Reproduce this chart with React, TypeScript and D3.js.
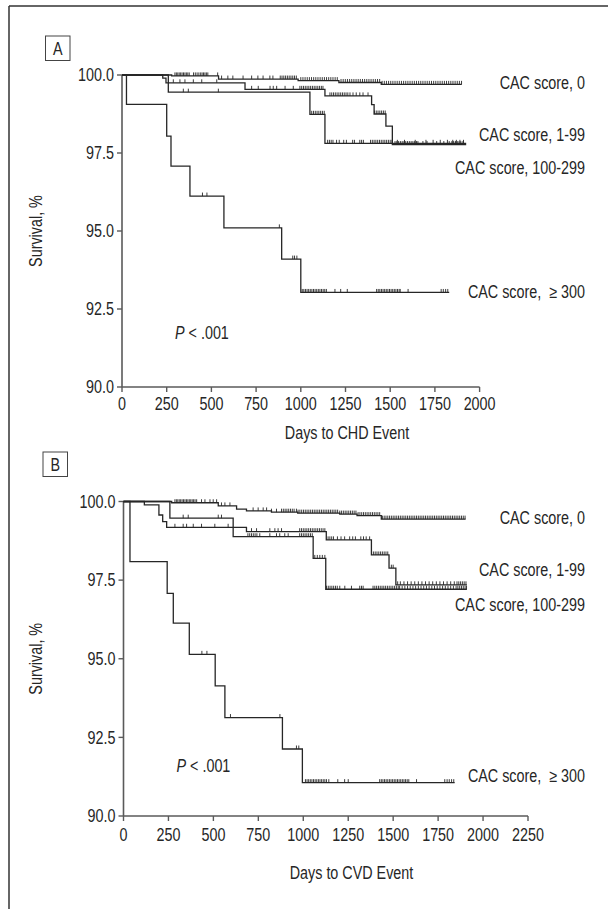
import React from "react";
import * as d3 from "d3";

// ---------- DATA ----------
const X_TICKS_A = [0, 250, 500, 750, 1000, 1250, 1500, 1750, 2000];
const X_TICKS_B = [0, 250, 500, 750, 1000, 1250, 1500, 1750, 2000, 2250];
const Y_TICKS = [90, 92.5, 95, 97.5, 100];

const GROUPS = ["CAC score, 0", "CAC score, 1-99", "CAC score, 100-299", "CAC score,\u00a0 \u2265 300"];

// Panel A (CHD) step points [day, survival %]
const A_CAC0: [number, number][] = [[0, 100], [278, 99.97], [540, 99.87], [985, 99.82], [1213, 99.76], [1450, 99.7]];
const A_CAC0_END = 1900;
const A_CAC0_CENS = [296, 304, 312, 320, 328, 336, 344, 352, 360, 368, 376, 400, 410, 420, 430, 440, 448, 456, 464, 472, 480, 535, 557, 592, 620, 677, 725, 760, 789, 827, 844, 885, 895, 905, 915, 925, 935, 945, 955, 965, 975, 1000, 1012, 1024, 1036, 1048, 1060, 1072, 1084, 1096, 1108, 1120, 1132, 1144, 1156, 1168, 1180, 1192, 1204, 1225, 1237, 1249, 1261, 1273, 1285, 1297, 1309, 1321, 1333, 1345, 1357, 1369, 1381, 1393, 1405, 1417, 1429, 1441, 1455, 1467, 1479, 1491, 1503, 1515, 1527, 1539, 1551, 1563, 1575, 1587, 1599, 1611, 1623, 1635, 1647, 1659, 1671, 1683, 1695, 1707, 1719, 1731, 1743, 1755, 1767, 1779, 1791, 1803, 1815, 1827, 1839, 1851, 1863, 1875, 1887, 1899];

const A_CAC1: [number, number][] = [[0, 100], [228, 99.9], [246, 99.75], [688, 99.54], [1135, 99.33], [1396, 99.05], [1410, 98.75], [1476, 98.36], [1512, 97.77]];
const A_CAC1_END = 1925;
const A_CAC1_CENS = [287, 324, 352, 399, 446, 530, 725, 762, 828, 846, 865, 912, 958, 995, 1005, 1015, 1025, 1035, 1045, 1055, 1065, 1075, 1085, 1095, 1105, 1115, 1124, 1163, 1173, 1183, 1193, 1203, 1213, 1223, 1233, 1243, 1253, 1263, 1275, 1292, 1310, 1330, 1348, 1376, 1412, 1422, 1432, 1442, 1452, 1462, 1472, 1527, 1537, 1547, 1557, 1567, 1577, 1587, 1597, 1607, 1617, 1627, 1637, 1647, 1655, 1683, 1706, 1760, 1800, 1830, 1845, 1855, 1865, 1875, 1885, 1895, 1907];

const A_CAC2: [number, number][] = [[0, 100], [259, 99.45], [1051, 98.74], [1135, 97.81]];
const A_CAC2_END = 1925;
const A_CAC2_CENS = [343, 371, 539, 1061, 1071, 1081, 1091, 1101, 1111, 1121, 1131, 1150, 1160, 1170, 1180, 1200, 1215, 1240, 1255, 1290, 1300, 1330, 1340, 1350, 1390, 1400, 1410, 1420, 1430, 1440, 1450, 1460, 1470, 1480, 1490, 1500, 1510, 1540, 1580, 1640, 1700, 1740, 1780, 1820, 1850, 1870, 1890, 1910];

const A_CAC3: [number, number][] = [[0, 100], [25, 99.06], [250, 98.04], [274, 97.08], [380, 96.12], [570, 95.1], [893, 94.1], [1000, 93.03]];
const A_CAC3_END = 1830;
const A_CAC3_CENS = [450, 475, 880, 955, 965, 978, 1008, 1017, 1026, 1035, 1044, 1053, 1062, 1071, 1080, 1089, 1098, 1107, 1116, 1125, 1134, 1143, 1191, 1223, 1260, 1424, 1433, 1442, 1451, 1460, 1469, 1478, 1487, 1496, 1505, 1514, 1523, 1532, 1541, 1550, 1556, 1600, 1785, 1797, 1810, 1822];

// Panel B (CVD)
const B_CAC0: [number, number][] = [[0, 100], [268, 99.96], [527, 99.86], [629, 99.76], [684, 99.7], [823, 99.66], [969, 99.63], [1203, 99.6], [1299, 99.55], [1434, 99.44]];
const B_CAC0_END = 1903;
const B_CAC0_CENS = [286, 294, 302, 310, 318, 326, 334, 342, 350, 358, 366, 374, 382, 390, 398, 407, 434, 453, 481, 499, 518, 545, 564, 592, 721, 749, 777, 796, 823, 851, 879, 889, 899, 909, 919, 929, 939, 949, 962, 971, 981, 991, 1001, 1011, 1021, 1031, 1041, 1051, 1061, 1071, 1081, 1091, 1101, 1111, 1121, 1131, 1141, 1151, 1161, 1171, 1181, 1191, 1203, 1213, 1223, 1233, 1243, 1253, 1263, 1273, 1283, 1293, 1305, 1315, 1325, 1335, 1345, 1355, 1365, 1375, 1385, 1395, 1405, 1415, 1425, 1440, 1450, 1460, 1470, 1480, 1490, 1500, 1510, 1520, 1530, 1540, 1550, 1560, 1570, 1580, 1590, 1600, 1610, 1620, 1630, 1640, 1650, 1660, 1670, 1680, 1690, 1700, 1710, 1720, 1730, 1740, 1750, 1760, 1770, 1780, 1790, 1800, 1810, 1820, 1830, 1840, 1850, 1860, 1870, 1880, 1890, 1900];

const B_CAC1: [number, number][] = [[0, 100], [116, 99.89], [197, 99.57], [218, 99.36], [240, 99.18], [684, 99.04], [1128, 98.78], [1379, 98.3], [1477, 97.88], [1515, 97.35]];
const B_CAC1_END = 1910;
const B_CAC1_CENS = [286, 332, 351, 388, 434, 508, 582, 712, 740, 814, 842, 860, 879, 980, 990, 1000, 1010, 1020, 1030, 1040, 1050, 1060, 1070, 1080, 1090, 1100, 1110, 1120, 1138, 1148, 1158, 1168, 1190, 1210, 1230, 1258, 1275, 1290, 1320, 1335, 1350, 1369, 1390, 1400, 1410, 1420, 1430, 1440, 1450, 1460, 1470, 1490, 1500, 1525, 1540, 1560, 1580, 1600, 1620, 1640, 1660, 1680, 1700, 1720, 1740, 1760, 1780, 1800, 1820, 1840, 1855, 1865, 1875, 1885, 1895, 1905];

const B_CAC2: [number, number][] = [[0, 100], [258, 99.47], [610, 98.88], [1055, 98.19], [1125, 97.21]];
const B_CAC2_END = 1910;
const B_CAC2_CENS = [332, 360, 527, 545, 692, 702, 712, 722, 732, 742, 758, 814, 851, 869, 897, 916, 980, 990, 1000, 1010, 1020, 1030, 1040, 1050, 1064, 1078, 1092, 1106, 1120, 1129, 1139, 1149, 1159, 1169, 1179, 1189, 1203, 1231, 1268, 1314, 1324, 1333, 1388, 1398, 1408, 1418, 1428, 1438, 1448, 1458, 1468, 1478, 1488, 1498, 1508, 1518, 1528, 1536, 1550, 1565, 1580, 1595, 1610, 1625, 1640, 1655, 1670, 1685, 1700, 1715, 1730, 1745, 1760, 1775, 1790, 1805, 1820, 1835, 1850, 1860, 1870, 1880, 1890, 1900, 1908];

const B_CAC3: [number, number][] = [[0, 100], [36, 98.09], [243, 97.08], [277, 96.13], [366, 95.14], [510, 94.14], [564, 93.13], [884, 92.13], [995, 91.06]];
const B_CAC3_END = 1842;
const B_CAC3_CENS = [436, 464, 595, 870, 962, 975, 1012, 1021, 1030, 1039, 1048, 1057, 1066, 1075, 1084, 1093, 1102, 1111, 1120, 1129, 1142, 1192, 1230, 1250, 1425, 1434, 1443, 1452, 1461, 1470, 1479, 1488, 1497, 1506, 1515, 1524, 1533, 1542, 1551, 1560, 1569, 1578, 1587, 1630, 1787, 1800, 1812, 1825, 1837];

// ---------- STYLE ----------
const FONT = "'Liberation Sans', Arial, sans-serif";
const FS = 17.5;
const SX = 0.82; // condensed look
const INK = "#262626";
const AXIS = "#5a5a5a";

type Curve = { steps: [number, number][]; end: number; cens: number[] };

function survAt(steps: [number, number][], d: number) {
  let s = steps[0][1];
  for (const [t, v] of steps) if (t <= d) s = v;
  return s;
}

function T(props: { x: number; y: number; anchor?: string; rotate?: number; children: React.ReactNode }) {
  const rot = props.rotate ? ` rotate(${props.rotate})` : "";
  return (
    <text
      transform={`translate(${props.x},${props.y})${rot} scale(${SX},1)`}
      dy="0.36em"
      textAnchor={props.anchor || "start"}
      fontFamily={FONT}
      fontSize={FS}
      fill={INK}
    >
      {props.children}
    </text>
  );
}

function Panel(props: {
  letter: string;
  box: [number, number];
  xRange: [number, number];
  yRange: [number, number];
  xMax: number;
  xTicks: number[];
  curves: Curve[];
  labelY: number[];
  pY: number;
  pX: number;
  xTitle: string;
  xTitlePos: [number, number];
  tickLabelOff: number;
}) {
  const x = d3.scaleLinear().domain([0, props.xMax]).range(props.xRange);
  const y = d3.scaleLinear().domain([90, 100]).range(props.yRange);
  const line = d3
    .line<[number, number]>()
    .x((d) => x(d[0]))
    .y((d) => y(d[1]))
    .curve(d3.curveStepAfter);
  const x0 = props.xRange[0];
  const yBot = y(90);
  return (
    <g>
      <rect x={props.box[0]} y={props.box[1]} width={24.5} height={24.5} fill="none" stroke="#444" strokeWidth={1} />
      <T x={props.box[0] + 12.25} y={props.box[1] + 12.5} anchor="middle">
        {props.letter}
      </T>
      {/* axes */}
      <line x1={x0} x2={x0} y1={y(100)} y2={yBot} stroke={AXIS} strokeWidth={1.6} />
      <line x1={x0} x2={x(props.xMax)} y1={yBot} y2={yBot} stroke={AXIS} strokeWidth={1.6} />
      {Y_TICKS.map((t) => (
        <g key={"y" + t}>
          <line x1={x0 - 5} x2={x0} y1={y(t)} y2={y(t)} stroke={AXIS} strokeWidth={1.4} />
          <T x={x0 - 8} y={y(t)} anchor="end">
            {t.toFixed(1)}
          </T>
        </g>
      ))}
      {props.xTicks.map((t) => (
        <g key={"x" + t}>
          <line x1={x(t)} x2={x(t)} y1={yBot} y2={yBot + 5} stroke={AXIS} strokeWidth={1.4} />
          <T x={x(t)} y={yBot + props.tickLabelOff} anchor="middle">
            {t}
          </T>
        </g>
      ))}
      <T x={36} y={(y(100) + yBot) / 2} rotate={-90} anchor="middle">
        Survival, %
      </T>
      <T x={props.xTitlePos[0]} y={props.xTitlePos[1]} anchor="middle">
        {props.xTitle}
      </T>
      <T x={props.pX} y={props.pY}>
        <tspan fontStyle="italic">P</tspan>
        <tspan> &lt; .001</tspan>
      </T>
      {/* curves */}
      {props.curves.map((c, i) => {
        const last = c.steps[c.steps.length - 1][1];
        const pts: [number, number][] = [...c.steps, [c.end, last]];
        return (
          <g key={"c" + i}>
            <path d={line(pts) || ""} fill="none" stroke={INK} strokeWidth={1.3} />
            {c.cens.map((d, j) => {
              const s = survAt(c.steps, d);
              return <line key={j} x1={x(d)} x2={x(d)} y1={y(s) - 3.5} y2={y(s)} stroke={INK} strokeWidth={0.9} />;
            })}
          </g>
        );
      })}
      {GROUPS.map((g, i) => (
        <T key={g} x={585} y={props.labelY[i]} anchor="end">
          {g}
        </T>
      ))}
    </g>
  );
}

export default function App() {
  return (
    <svg width={608} height={909} style={{ position: "absolute", left: 0, top: 0, background: "#fff" }}>
      <rect x={0} y={0} width={608} height={909} fill="#fff" />
      <line x1={9} x2={608} y1={6} y2={6} stroke="#333" strokeWidth={1.5} />
      <line x1={9} x2={9} y1={6} y2={909} stroke="#333" strokeWidth={1.5} />
      <Panel
        letter="A"
        box={[45.5, 36]}
        xRange={[122, 479.6]}
        yRange={[387, 75]}
        xMax={2000}
        xTicks={X_TICKS_A}
        curves={[
          { steps: A_CAC0, end: A_CAC0_END, cens: A_CAC0_CENS },
          { steps: A_CAC1, end: A_CAC1_END, cens: A_CAC1_CENS },
          { steps: A_CAC2, end: A_CAC2_END, cens: A_CAC2_CENS },
          { steps: A_CAC3, end: A_CAC3_END, cens: A_CAC3_CENS },
        ]}
        labelY={[83, 135, 168, 292]}
        pX={175}
        pY={333}
        xTitle="Days to CHD Event"
        xTitlePos={[347, 433]}
        tickLabelOff={17}
      />
      <Panel
        letter="B"
        box={[43, 452]}
        xRange={[123.5, 528]}
        yRange={[816, 501.5]}
        xMax={2250}
        xTicks={X_TICKS_B}
        curves={[
          { steps: B_CAC0, end: B_CAC0_END, cens: B_CAC0_CENS },
          { steps: B_CAC1, end: B_CAC1_END, cens: B_CAC1_CENS },
          { steps: B_CAC2, end: B_CAC2_END, cens: B_CAC2_CENS },
          { steps: B_CAC3, end: B_CAC3_END, cens: B_CAC3_CENS },
        ]}
        labelY={[518, 570, 605, 776]}
        pX={176.5}
        pY={766}
        xTitle="Days to CVD Event"
        xTitlePos={[351.5, 873]}
        tickLabelOff={19}
      />
    </svg>
  );
}
